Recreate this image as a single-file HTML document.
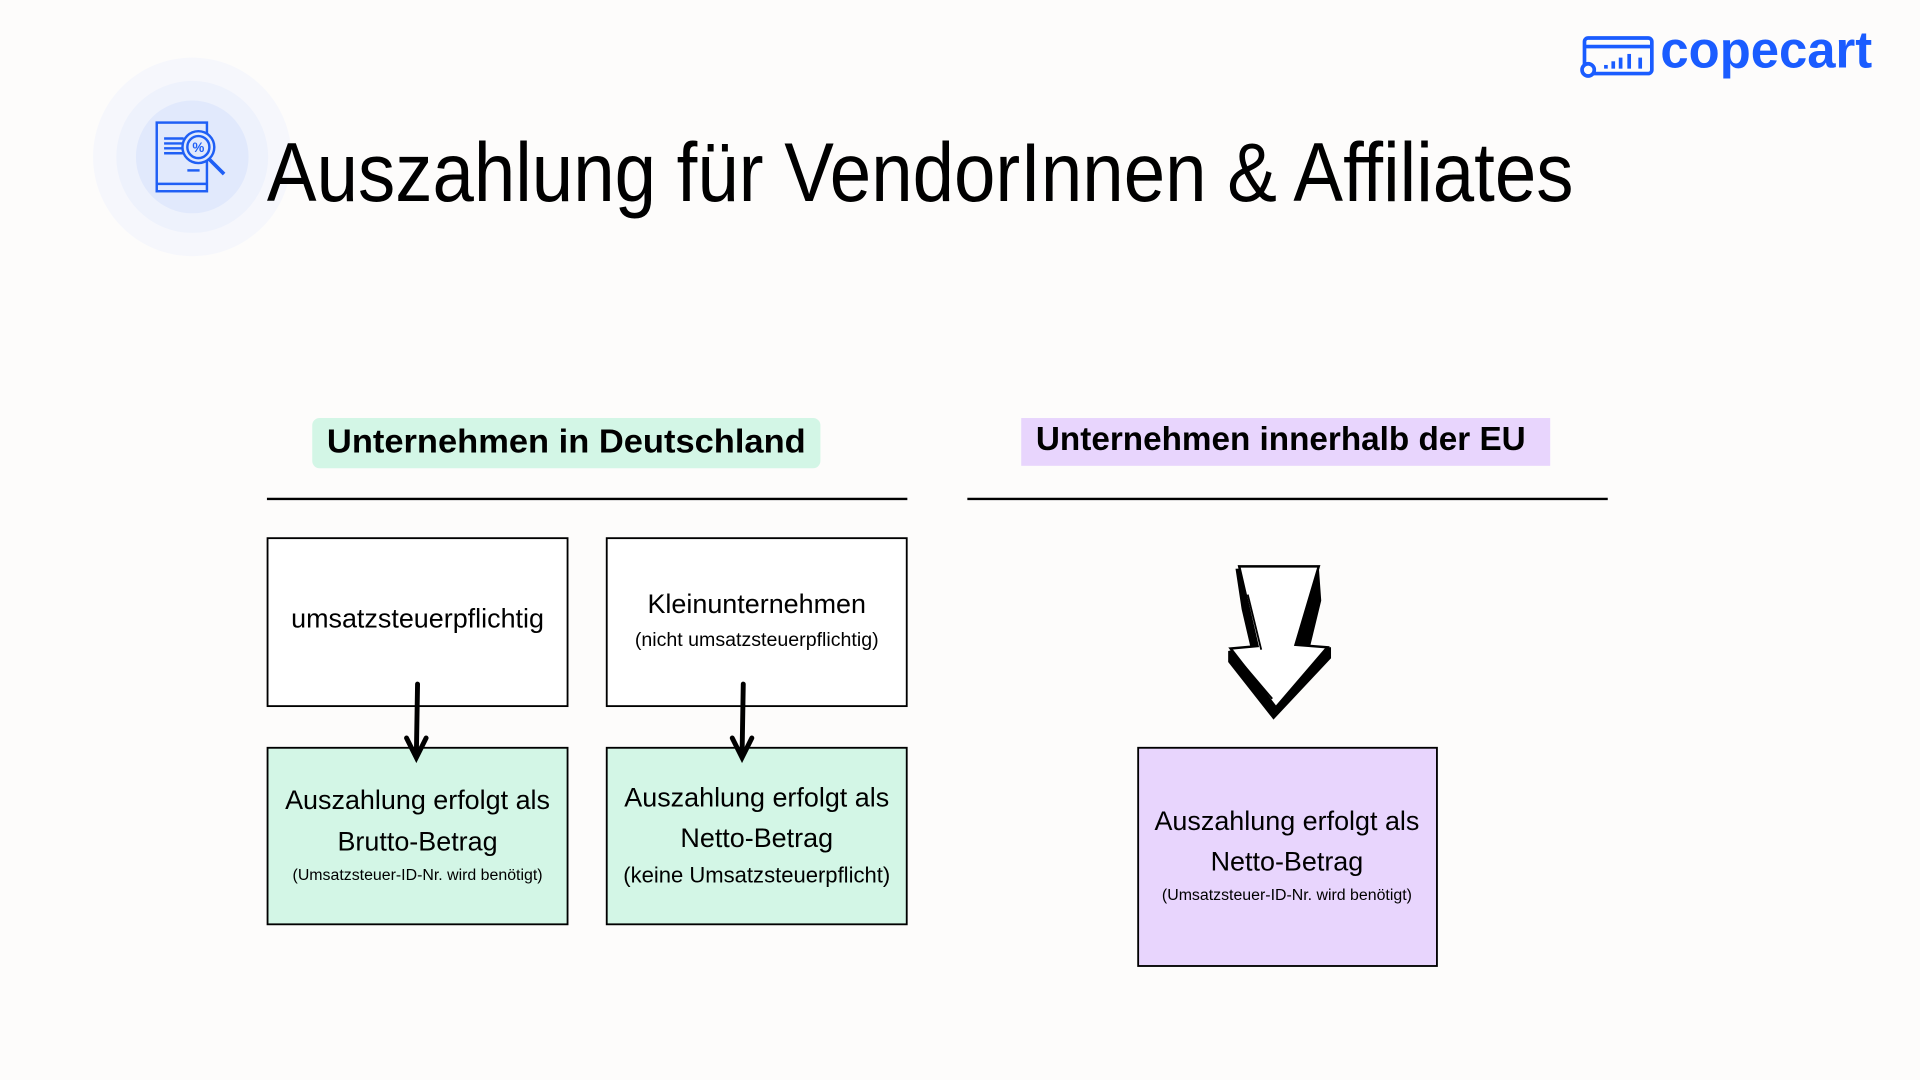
<!DOCTYPE html>
<html><head><meta charset="utf-8"><style>
html,body{margin:0;padding:0;background:#fdfcfb;width:1920px;height:1080px;overflow:hidden}
svg{display:block}
text{font-family:"Liberation Sans",sans-serif}
</style></head><body>
<svg width="1920" height="1080" viewBox="0 0 1568 881" preserveAspectRatio="none" xmlns="http://www.w3.org/2000/svg">
<rect width="1568" height="881" fill="#fdfcfb"/>
<!-- icon -->
<circle cx="157" cy="128" r="81" fill="#f6f7fc"/>
<circle cx="157" cy="128" r="62" fill="#eef2fc"/>
<circle cx="157" cy="128" r="46" fill="#e1e9fc"/>
<g fill="none" stroke="#1f5ff5" stroke-width="2">
<rect x="128" y="100" width="41" height="56"/>
<line x1="128" y1="150" x2="169" y2="150"/>
<line x1="134" y1="113" x2="150" y2="113"/><line x1="134" y1="117" x2="150" y2="117"/>
<line x1="134" y1="121" x2="150" y2="121"/><line x1="134" y1="125" x2="150" y2="125"/>
<line x1="153" y1="139" x2="163" y2="139"/>
<circle cx="162" cy="120" r="13" fill="#e1e9fc"/>
<circle cx="162" cy="120" r="9"/>
<line x1="171" y1="130" x2="183" y2="142" stroke-width="3"/>
</g>
<text x="162" y="124" font-size="11" font-weight="bold" fill="#1f5ff5" text-anchor="middle">%</text>
<!-- title -->
<text x="218" y="164" font-size="68" fill="#000" textLength="1067" lengthAdjust="spacingAndGlyphs">Auszahlung für VendorInnen &amp; Affiliates</text>
<!-- logo -->
<g fill="none" stroke="#1a5cff" stroke-width="3">
<rect x="1294" y="31" width="55" height="29" rx="3"/>
<line x1="1294" y1="38" x2="1349" y2="38"/>
<circle cx="1297" cy="57" r="5" fill="#fdfcfb"/>
</g>
<g fill="#1a5cff"><rect x="1310" y="53" width="3" height="3"/><rect x="1316" y="50" width="3" height="6"/><rect x="1322" y="47" width="3" height="9"/><rect x="1329" y="44" width="3" height="12"/><rect x="1338" y="47" width="3" height="9"/></g>
<text x="1356" y="55" font-size="42" font-weight="bold" fill="#1a5cff" textLength="173" lengthAdjust="spacingAndGlyphs">copecart</text>
<!-- headings -->
<rect x="255" y="341" width="415" height="41" rx="6" fill="#d3f6e6"/>
<text x="267" y="369" font-size="27" font-weight="bold" textLength="391" lengthAdjust="spacingAndGlyphs">Unternehmen in Deutschland</text>
<rect x="834" y="341" width="432" height="39" fill="#e8d5fd"/>
<text x="846" y="367" font-size="27" font-weight="bold" textLength="400" lengthAdjust="spacingAndGlyphs">Unternehmen innerhalb der EU</text>
<line x1="218" y1="407" x2="741" y2="407" stroke="#000" stroke-width="2"/>
<line x1="790" y1="407" x2="1313" y2="407" stroke="#000" stroke-width="2"/>
<!-- boxes -->
<g stroke="#000" stroke-width="1.5">
<rect x="218.5" y="439" width="245" height="137" fill="#fff"/>
<rect x="495.5" y="439" width="245" height="137" fill="#fff"/>
<rect x="218.5" y="610" width="245" height="144" fill="#d3f6e6"/>
<rect x="495.5" y="610" width="245" height="144" fill="#d3f6e6"/>
<rect x="929.5" y="610" width="244" height="178" fill="#e8d5fd"/>
</g>
<g text-anchor="middle" fill="#000">
<text x="341" y="512" font-size="22">umsatzsteuerpflichtig</text>
<text x="618" y="500" font-size="22">Kleinunternehmen</text>
<text x="618" y="527" font-size="16">(nicht umsatzsteuerpflichtig)</text>
<text x="341" y="660" font-size="22">Auszahlung erfolgt als</text>
<text x="341" y="694" font-size="22">Brutto-Betrag</text>
<text x="341" y="718" font-size="13">(Umsatzsteuer-ID-Nr. wird benötigt)</text>
<text x="618" y="658" font-size="22">Auszahlung erfolgt als</text>
<text x="618" y="691" font-size="22">Netto-Betrag</text>
<text x="618" y="720" font-size="18">(keine Umsatzsteuerpflicht)</text>
<text x="1051" y="677" font-size="22">Auszahlung erfolgt als</text>
<text x="1051" y="710" font-size="22">Netto-Betrag</text>
<text x="1051" y="734" font-size="13">(Umsatzsteuer-ID-Nr. wird benötigt)</text>
</g>
<!-- small arrows -->
<g stroke="#000" stroke-width="4" fill="none" stroke-linecap="round">
<line x1="341" y1="558" x2="340" y2="617"/><polyline points="332,602 340,618 348,602"/>
<line x1="607" y1="558" x2="606" y2="617"/><polyline points="598,602 606,618 614,602"/>
</g>
<!-- big arrow -->
<polygon points="1009,464 1014,497 1021,527 1003,531 1003,540 1040,587 1087,537 1087,528 1070,527 1079,490 1077,462" fill="#000"/>
<polygon points="1012,462 1077,462 1058,526 1084,528 1042,577 1005,529 1027,527" fill="#fff" stroke="#000" stroke-width="2"/>
<line x1="1019" y1="485" x2="1030" y2="530" stroke="#000" stroke-width="1.5"/>
<line x1="1011" y1="537" x2="1039" y2="570" stroke="#000" stroke-width="1.5"/>
</svg>
</body></html>
